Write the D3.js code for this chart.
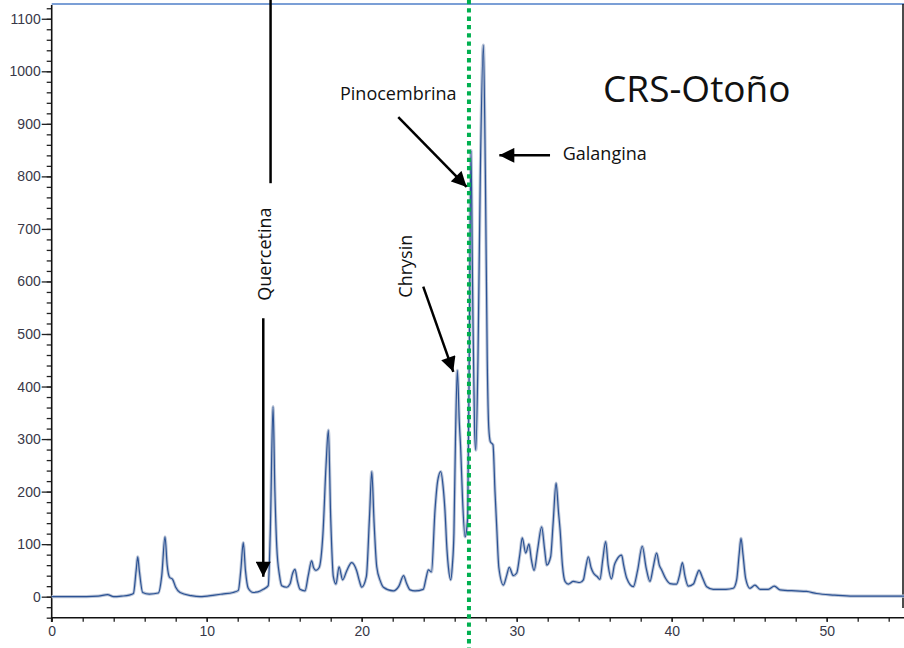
<!DOCTYPE html>
<html>
<head>
<meta charset="utf-8">
<script src="https://cdn.jsdelivr.net/npm/d3@7"></script>
<style>
  html, body { margin: 0; padding: 0; background: #fff; }
  svg { display: block; }
</style>
</head>
<body>
<svg id="chart" width="904" height="648"></svg>
<script>
// ---- data ----
const times = [0,1.5,3.0,3.6,4.0,4.5,5.0,5.27,5.45,5.55,5.65,5.87,6.3,6.88,7.1,7.31,7.45,7.6,7.8,8.0,8.28,9.0,9.57,10.5,11.0,11.7,12.04,12.2,12.36,12.5,12.68,13.0,13.3,13.65,13.97,14.1,14.28,14.4,14.52,14.7,14.84,15.16,15.37,15.55,15.7,15.85,16.02,16.34,16.55,16.77,16.9,17.05,17.25,17.5,17.7,17.85,18.0,18.17,18.34,18.54,18.77,19.03,19.35,19.68,19.85,20.0,20.3,20.5,20.65,20.8,20.97,21.2,21.4,22.04,22.4,22.7,22.9,23.12,23.44,23.97,24.15,24.3,24.5,24.73,24.9,25.1,25.25,25.37,25.5,25.59,25.74,25.85,25.95,26.05,26.17,26.3,26.39,26.5,26.67,26.78,26.84,26.95,27.05,27.15,27.28,27.36,27.5,27.65,27.85,27.98,28.1,28.2,28.3,28.47,28.6,28.71,28.85,29.14,29.35,29.52,29.78,30.0,30.2,30.36,30.58,30.79,30.95,31.12,31.35,31.61,31.8,31.94,32.19,32.35,32.54,32.7,32.8,32.95,33.12,33.33,33.65,34.08,34.3,34.45,34.62,34.8,34.95,35.2,35.37,35.55,35.74,35.9,36.12,36.3,36.45,36.77,36.9,37.1,37.52,37.8,38.1,38.35,38.6,38.8,39.03,39.2,39.35,39.6,39.89,40.32,40.5,40.69,40.85,41.07,41.4,41.6,41.76,42.0,42.26,42.68,43.5,43.97,44.19,44.35,44.47,44.6,44.77,45.05,45.37,45.7,46.23,46.62,46.99,48.0,48.7,49.35,50.5,51.7,55];
const signal = [0,0,1,4,0,1,3,6,50,76,50,8,5,7,40,114,60,37,33,18,8,2,0,3,5,8,12,50,103,50,16,8,9,14,21,120,362,200,95,40,21,18,24,45,52,30,14,11,40,68,55,50,55,120,250,317,150,38,24,57,32,49,65,49,30,18,38,150,238,140,57,30,18,11,20,40,25,13,11,14,35,51,47,165,220,238,210,165,90,57,32,60,121,300,431,330,279,190,114,130,159,500,849,600,320,279,450,800,1050,800,450,320,295,289,200,133,55,22,40,56,40,45,80,112,83,100,70,50,90,133,90,60,76,140,216,160,127,60,29,24,29,27,32,55,76,55,45,38,33,70,105,60,34,60,70,79,60,35,19,50,96,55,29,55,83,60,51,35,25,24,40,65,40,20,24,40,50,35,19,14,14,16,32,80,111,80,35,16,22,14,14,20,13,11,10,6,3,1,1];

const xMajorTicks = [0,10,20,30,40,50];
const xMinorTicks = d3.range(0, 56, 2);
const yMajorTicks = [0,100,200,300,400,500,600,700,800,900,1000,1100];
const yMinorTicks = d3.range(-40, 1121, 20);

const markerTime = 26.92;   // green dotted reference line

// annotations (data coordinates)
const labels = [
  {text: "Pinocembrina", t: 18.6, v: 946, size: 18, rot: false},
  {text: "Galangina",    t: 32.97, v: 832, size: 18, rot: false},
  {text: "CRS-Otoño",    t: 35.57, v: 942, size: 37, rot: false},
  {text: "Quercetina",   t: 13.7, v: 652, size: 18, rot: true},
  {text: "Chrysin",      t: 22.79, v: 629, size: 18, rot: true}
];
const arrows = [
  {t1: 22.36, v1: 913, t2: 26.77, v2: 780},   // Pinocembrina
  {t1: 32.15, v1: 840, t2: 28.88, v2: 840},   // Galangina
  {t1: 23.97, v1: 590, t2: 25.91, v2: 428},   // Chrysin
  {t1: 13.65, v1: 530, t2: 13.65, v2: 38}     // Quercetina
];
const plainLines = [
  {t1: 14.12, v1: 1136, t2: 14.12, v2: 787}   // Quercetina upper segment
];

// ---- drawing ----
const svg = d3.select("#chart");
const W = 904, H = 648;
const x = d3.scaleLinear().domain([0, 55]).range([51.7, 904.2]);
const y = d3.scaleLinear().domain([-40, 1126]).range([617.7, 5.1]);

const data = times.map((t, i) => ({t, v: signal[i]}));

// arrow marker
svg.append("defs").append("marker")
  .attr("id", "ah").attr("viewBox", "0 0 10 10")
  .attr("refX", 10).attr("refY", 5)
  .attr("markerUnits", "userSpaceOnUse")
  .attr("markerWidth", 16).attr("markerHeight", 15)
  .attr("orient", "auto")
  .append("path").attr("d", "M0,0 L10,5 L0,10 Z").attr("fill", "#000");

// top blue frame line and right border
svg.append("line").attr("x1", x(0)).attr("x2", W).attr("y1", 4).attr("y2", 4)
  .attr("stroke", "#4f7fc9").attr("stroke-width", 1.6);
svg.append("line").attr("x1", 903).attr("x2", 903).attr("y1", 4).attr("y2", 608)
  .attr("stroke", "#111").attr("stroke-width", 1.5);

// axes
const axisFont = "'Liberation Sans', Arial, sans-serif";
const gy = svg.append("g").attr("transform", `translate(${x(0)},0)`);
gy.call(d3.axisLeft(y).tickValues(yMinorTicks).tickSize(5).tickFormat(""))
  .call(g => g.select(".domain").remove());
gy.append("g").call(d3.axisLeft(y).tickValues(yMajorTicks).tickSize(10).tickPadding(1).tickFormat(d3.format("d")))
  .call(g => g.select(".domain").remove())
  .call(g => g.selectAll("text").attr("font-size", 14).attr("font-family", axisFont).attr("fill", "#383848"));
gy.selectAll("line").attr("stroke", "#222").attr("stroke-width", 1.3);
gy.append("line").attr("x1", 0).attr("x2", 0).attr("y1", 5).attr("y2", 622)
  .attr("stroke", "#111").attr("stroke-width", 1.6);

const gx = svg.append("g").attr("transform", `translate(0,${y(-40)})`);
gx.call(d3.axisBottom(x).tickValues(xMinorTicks).tickSize(4).tickFormat(""))
  .call(g => g.select(".domain").remove());
gx.append("g").call(d3.axisBottom(x).tickValues(xMajorTicks).tickSize(4).tickPadding(4).tickFormat(d3.format("d")))
  .call(g => g.select(".domain").remove())
  .call(g => g.selectAll("text").attr("font-size", 14).attr("font-family", axisFont).attr("fill", "#383848"));
gx.selectAll("line").attr("stroke", "#222").attr("stroke-width", 1.3);
gx.append("line").attr("x1", x(0)).attr("x2", W).attr("y1", 0).attr("y2", 0)
  .attr("stroke", "#111").attr("stroke-width", 1.6);

// chromatogram trace
const line = d3.line().x(d => x(d.t)).y(d => y(d.v)).curve(d3.curveMonotoneX);
svg.append("path").datum(data).attr("d", line)
  .attr("fill", "none").attr("stroke", "#bcc6d8").attr("stroke-width", 3.2).attr("stroke-linejoin", "round");
svg.append("path").datum(data).attr("d", line)
  .attr("fill", "none").attr("stroke", "#2b5294").attr("stroke-width", 1.2).attr("stroke-linejoin", "round");

// green dotted reference line
svg.append("line").attr("x1", x(markerTime)).attr("x2", x(markerTime)).attr("y1", 0).attr("y2", H)
  .attr("stroke", "#00b050").attr("stroke-width", 4).attr("stroke-dasharray", "4.3 4");

// annotation lines / arrows
svg.selectAll("line.plain").data(plainLines).join("line").attr("class", "plain")
  .attr("x1", d => x(d.t1)).attr("y1", d => y(d.v1)).attr("x2", d => x(d.t2)).attr("y2", d => y(d.v2))
  .attr("stroke", "#000").attr("stroke-width", 2.5);
svg.selectAll("line.arrow").data(arrows).join("line").attr("class", "arrow")
  .attr("x1", d => x(d.t1)).attr("y1", d => y(d.v1)).attr("x2", d => x(d.t2)).attr("y2", d => y(d.v2))
  .attr("stroke", "#000").attr("stroke-width", 2.5).attr("marker-end", "url(#ah)");

// annotation labels
const annFont = "'Open Sans', sans-serif";
labels.forEach(l => {
  const tx = svg.append("text").text(l.text)
    .attr("font-family", annFont).attr("font-size", l.size).attr("fill", "#111");
  if (l.rot) {
    tx.attr("text-anchor", "middle").attr("dominant-baseline", "central")
      .attr("transform", `translate(${x(l.t)},${y(l.v)}) rotate(-90)`);
  } else {
    tx.attr("x", x(l.t)).attr("y", y(l.v));
  }
});
</script>
</body>
</html>
